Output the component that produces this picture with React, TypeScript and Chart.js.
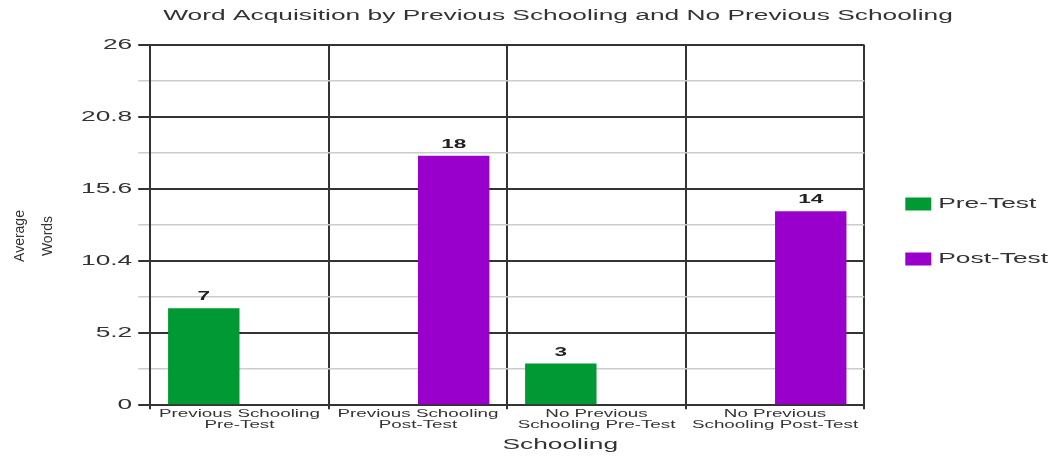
import React, { useEffect, useRef } from 'react';
import { Chart, registerables } from 'chart.js';

Chart.register(...registerables);

// ---- data ----
const categories: string[][] = [
  ['Previous Schooling', 'Pre-Test'],
  ['Previous Schooling', 'Post-Test'],
  ['No Previous', 'Schooling Pre-Test'],
  ['No Previous', 'Schooling Post-Test'],
];
const seriesNames: string[] = ['Pre-Test', 'Post-Test'];
const preTest: (number | null)[] = [7, null, 3, null];
const postTest: (number | null)[] = [null, 18, null, 14];
const gridValues: number[] = [0, 2.6, 5.2, 7.8, 10.4, 13, 15.6, 18.2, 20.8, 23.4, 26];
const labeledTicks: number[] = [0, 5.2, 10.4, 15.6, 20.8, 26];
const chartTitle = 'Word Acquisition by Previous Schooling and No Previous Schooling';
const xTitle = 'Schooling';
const yTitle: string[] = ['Average', 'Words'];

// ---- style ----
const FONT = "'Liberation Sans', Arial, Helvetica, sans-serif";
const TEXT_STRETCH = 1.88;
const TITLE_SHIFT = 29;
const X_TITLE_SHIFT = 53;
const Y_TITLE_SHIFT = 11;
const GREEN = '#009933';
const PURPLE = '#9900cc';
const DARK = '#333333';
const LIGHT = '#cccccc';

const stretchState = { off: false };

function stretchText(ctx: CanvasRenderingContext2D) {
  const origFill = ctx.fillText.bind(ctx);
  const origMeasure = ctx.measureText.bind(ctx);
  (ctx as any).fillText = (text: string, x: number, y: number, maxWidth?: number) => {
    if (stretchState.off) {
      origFill(text, x, y);
      return;
    }
    ctx.save();
    ctx.translate(x, y);
    ctx.scale(TEXT_STRETCH, 1);
    if (maxWidth === undefined || maxWidth === null) origFill(text, 0, 0);
    else origFill(text, 0, 0, maxWidth / TEXT_STRETCH);
    ctx.restore();
  };
  (ctx as any).measureText = (text: string) => {
    const m = origMeasure(text);
    const k = stretchState.off ? 1 : TEXT_STRETCH;
    return {
      width: m.width * k,
      actualBoundingBoxLeft: m.actualBoundingBoxLeft * k,
      actualBoundingBoxRight: m.actualBoundingBoxRight * k,
      actualBoundingBoxAscent: m.actualBoundingBoxAscent,
      actualBoundingBoxDescent: m.actualBoundingBoxDescent,
      fontBoundingBoxAscent: m.fontBoundingBoxAscent,
      fontBoundingBoxDescent: m.fontBoundingBoxDescent,
    };
  };
}

const valueLabels = {
  id: 'valueLabels',
  afterDatasetsDraw(chart: any) {
    const ctx = chart.ctx;
    ctx.save();
    ctx.font = `bold 12px ${FONT}`;
    ctx.fillStyle = '#222222';
    ctx.textAlign = 'center';
    ctx.textBaseline = 'alphabetic';
    chart.data.datasets.forEach((ds: any, i: number) => {
      const meta = chart.getDatasetMeta(i);
      meta.data.forEach((el: any, j: number) => {
        const v = ds.data[j];
        if (v === null || v === undefined) return;
        ctx.fillText(String(v), el.x, el.y - 8);
      });
    });
    ctx.restore();
  },
};

const titleShift = {
  id: 'titleShift',
  afterLayout(chart: any) {
    const t = chart.titleBlock;
    if (t) {
      t.left += TITLE_SHIFT;
      t.right += TITLE_SHIFT;
    }
    const xs = chart.scales.x;
    if (xs && !xs.__shifted) {
      const orig = xs.drawTitle;
      xs.drawTitle = function () {
        const l = this.left, r = this.right;
        this.left = l + X_TITLE_SHIFT;
        this.right = r + X_TITLE_SHIFT;
        orig.call(this);
        this.left = l;
        this.right = r;
      };
      xs.__shifted = true;
    }
    const ys = chart.scales.y;
    if (ys && !ys.__shifted) {
      const orig = ys.drawTitle;
      ys.drawTitle = function () {
        const t0 = this.top, b0 = this.bottom;
        this.top = t0 + Y_TITLE_SHIFT;
        this.bottom = b0 + Y_TITLE_SHIFT;
        stretchState.off = true;
        orig.call(this);
        stretchState.off = false;
        this.top = t0;
        this.bottom = b0;
      };
      ys.__shifted = true;
    }
  },
};

export default function App() {
  const canvasRef = useRef<HTMLCanvasElement | null>(null);

  useEffect(() => {
    document.body.style.margin = '0';
    const canvas = canvasRef.current;
    if (!canvas) return;
    const ctx = canvas.getContext('2d') as CanvasRenderingContext2D;
    stretchText(ctx);

    const isMajor = (v: any) => labeledTicks.includes(v);

    const chart = new Chart(ctx, {
      type: 'bar',
      data: {
        labels: categories,
        datasets: [
          {
            label: seriesNames[0],
            data: preTest,
            backgroundColor: GREEN,
            borderWidth: 0,
            categoryPercentage: 0.8,
            barPercentage: 1.0,
          },
          {
            label: seriesNames[1],
            data: postTest,
            backgroundColor: PURPLE,
            borderWidth: 0,
            categoryPercentage: 0.8,
            barPercentage: 1.0,
          },
        ],
      },
      options: {
        responsive: false,
        animation: false,
        layout: { padding: { top: 7, bottom: 0, left: 0, right: 3 } },
        plugins: {
          title: {
            display: true,
            text: chartTitle,
            color: DARK,
            font: { family: FONT, size: 14, weight: 'normal', lineHeight: 1.2 },
            padding: { top: 1, bottom: 20 },
          },
          legend: {
            position: 'right',
            labels: {
              boxWidth: 26,
              boxHeight: 13,
              padding: 41,
              color: DARK,
              font: { family: FONT, size: 14 },
            },
          },
          tooltip: { enabled: false },
        },
        scales: {
          x: {
            grid: {
              offset: true,
              color: DARK,
              lineWidth: 2,
              tickLength: 4,
              tickColor: DARK,
            },
            border: { color: DARK, width: 2 },
            ticks: {
              color: DARK,
              font: { family: FONT, size: 10, lineHeight: 1.1 },
              maxRotation: 0,
              minRotation: 0,
              padding: 0,
              autoSkip: false,
            },
            title: {
              display: true,
              text: xTitle,
              color: DARK,
              font: { family: FONT, size: 14, lineHeight: 1.2 },
              padding: { top: 6, bottom: 2 },
            },
          },
          y: {
            min: 0,
            max: 26,
            afterBuildTicks: (scale: any) => {
              scale.ticks = gridValues.map((v) => ({ value: v }));
            },
            ticks: {
              autoSkip: false,
              padding: 6,
              color: DARK,
              font: { family: FONT, size: 14 },
              callback: (v: any) => (isMajor(v) ? String(v) : ''),
            },
            grid: {
              color: (c: any) => (isMajor(c.tick && c.tick.value) ? DARK : LIGHT),
              tickColor: (c: any) => (isMajor(c.tick && c.tick.value) ? DARK : LIGHT),
              lineWidth: (c: any) => (isMajor(c.tick && c.tick.value) ? 2 : 1.5),
              tickLength: 12,
            },
            border: { color: DARK, width: 2 },
            title: {
              display: true,
              text: yTitle,
              color: DARK,
              font: { family: FONT, size: 14, lineHeight: 2 },
              padding: { top: 6, bottom: 13 },
            },
          },
        },
      },
      plugins: [valueLabels, titleShift],
    } as any);

    return () => chart.destroy();
  }, []);

  return (
    <div style={{ position: 'absolute', left: 0, top: 0, width: 1061, height: 456 }}>
      <canvas ref={canvasRef} width={1061} height={456} style={{ width: '1061px', height: '456px', display: 'block' }} />
    </div>
  );
}
